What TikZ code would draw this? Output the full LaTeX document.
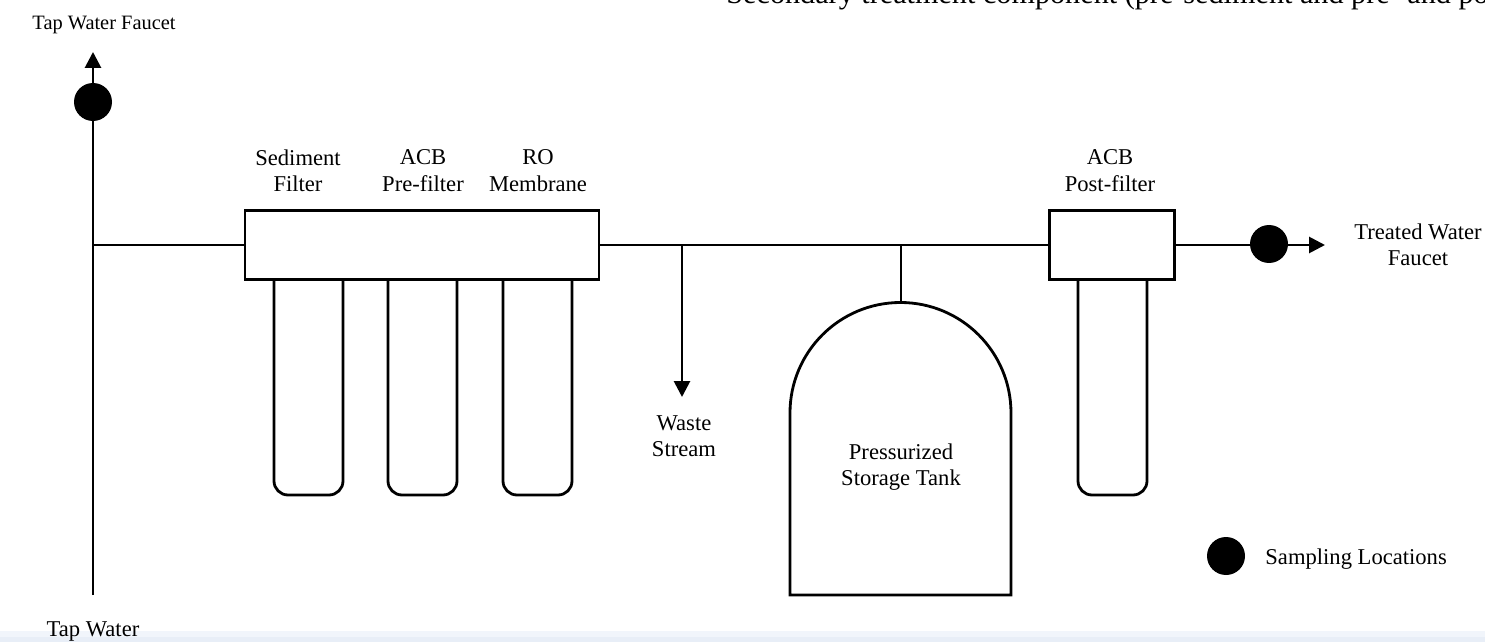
\documentclass[tikz,border=0pt]{standalone}
\usepackage{fontspec}
\setmainfont{Liberation Serif}
\usetikzlibrary{arrows.meta}
\definecolor{bandA}{HTML}{F1F5FB}
\definecolor{bandB}{HTML}{E8EEF7}
\tikzset{
 line/.style={draw=black,line width=1.4pt,line cap=butt},
 arrowline/.style={line,-{Triangle[length=8pt,width=8pt]}},
 lbl/.style={inner sep=0pt,align=center,font=\fontsize{11.3}{13.2}\selectfont,text=black},
 dotmark/.style={circle,fill=black,draw=none,minimum size=19pt,inner sep=0pt},
 cart/.style={line,rounded corners=7pt},
 headbox/.style={line,fill=white}
}
\begin{document}
\begin{tikzpicture}[x=0.5pt,y=-0.5pt]
\useasboundingbox (0,0) rectangle (1485,642);
\clip (0,0) rectangle (1485,642);
\fill[white] (0,0) rectangle (1485,642);
\fill[bandA] (0,631) rectangle (1485,637);
\fill[bandB] (0,637) rectangle (1485,642);
% coordinates
\coordinate (tapB) at (93,595);
\coordinate (tapT) at (93,52);
\coordinate (tapJ) at (93,245);
\coordinate (wasteJ) at (682,245);
\coordinate (wasteE) at (682,397);
\coordinate (tankJ) at (901,245);
\coordinate (outE) at (1325,245);
% cartridges
\draw[cart] (274,279) -- (274,495) -- (343,495) -- (343,279);
\draw[cart] (388,279) -- (388,495) -- (457,495) -- (457,279);
\draw[cart] (503,279) -- (503,495) -- (572,495) -- (572,279);
\draw[cart] (1078,279) -- (1078,495) -- (1147,495) -- (1147,279);
% boxes
\node[headbox,minimum width=177pt,minimum height=34.5pt,inner sep=0pt] (main) at (422,245) {};
\node[headbox,minimum width=62.5pt,minimum height=34.5pt,inner sep=0pt] (post) at (1112,245) {};
% tank
\draw[line] (790,595) -- (790,413) arc[start angle=180,end angle=360,x radius=110.5,y radius=110.5] -- (1011,595) -- cycle;
\coordinate (tankT) at (901,302.5);
% connectors
\draw[arrowline] (tapB) -- (tapT);
\draw[line] (tapJ) -- (main.west);
\draw[line] (main.east) -- (post.west);
\draw[arrowline] (wasteJ) -- (wasteE);
\draw[line] (tankJ) -- (tankT);
\draw[arrowline] (post.east) -- (outE);
% dots
\node[dotmark] (d1) at (93,102) {};
\node[dotmark] (d2) at (1269,244) {};
\node[dotmark] (d3) at (1226,556) {};
% labels
\node[lbl,font=\fontsize{10.2}{13}\selectfont] (t1) at (104,25) {Tap Water Faucet};
\node[lbl] (t2) at (93,632) {Tap Water};
\node[lbl] (t3) at (298,170.5) {Sediment\\Filter};
\node[lbl] (t4) at (423,170.5) {ACB\\Pre-filter};
\node[lbl] (t5) at (538,170.5) {RO\\Membrane};
\node[lbl] (t6) at (1110,170.5) {ACB\\Post-filter};
\node[lbl] (t7) at (1418,245) {Treated Water\\Faucet};
\node[lbl] (t8) at (684,436) {Waste\\Stream};
\node[lbl] (t9) at (901,467) {Pressurized\\Storage Tank};
\node[lbl,anchor=west] (t10) at (1265,559) {Sampling Locations};
\node[inner sep=0pt,anchor=base west,font=\fontsize{15.1}{17}\selectfont] (t11) at (726,3.5) {Secondary treatment component (pre-sediment and pre- and po};
\end{tikzpicture}
\end{document}
